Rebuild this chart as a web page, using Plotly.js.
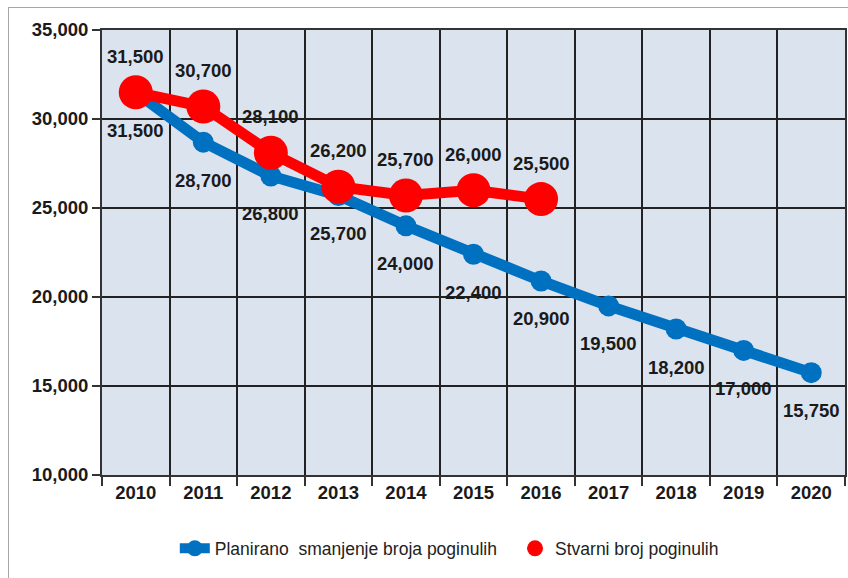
<!DOCTYPE html>
<html>
<head>
<meta charset="utf-8">
<script src="https://cdn.plot.ly/plotly-3.0.1.min.js"></script>
<style>
html,body{margin:0;padding:0;background:#fff;}
#wrap{position:relative;width:848px;height:578px;}
#frame{position:absolute;left:8px;top:7px;width:860px;height:600px;border-top:1px solid #a6a6a6;border-left:1px solid #a6a6a6;pointer-events:none;z-index:5;}
#chart{position:absolute;left:0;top:0;width:848px;height:578px;}
</style>
</head>
<body>
<div id="wrap"><div id="chart"></div><div id="frame"></div></div>
<script>
var years = ['2010','2011','2012','2013','2014','2015','2016','2017','2018','2019','2020'];
var plannedName = 'Planirano  smanjenje broja poginulih';
var plannedValues = [31500, 28700, 26800, 25700, 24000, 22400, 20900, 19500, 18200, 17000, 15750];
var actualName = 'Stvarni broj poginulih';
var actualYears = ['2010','2011','2012','2013','2014','2015','2016'];
var actualValues = [31500, 30700, 28100, 26200, 25700, 26000, 25500];
var yTickVals = [10000, 15000, 20000, 25000, 30000, 35000];

var BLUE = '#0070c0', RED = '#ff0000';
var fmt = function(v){ return v.toLocaleString('en-US'); };
var labelFont = {family:'Liberation Sans, Arial, sans-serif', size:18.5, color:'#1a1a1a', weight:700};
var legendFont = {family:'Liberation Sans, Arial, sans-serif', size:17.5, color:'#222'};

var traces = [
  {x: years, y: plannedValues, name: plannedName, type:'scatter', mode:'lines+markers',
   line:{color:BLUE, width:11}, marker:{color:BLUE, size:21}, hoverinfo:'skip', legend:'legend'},
  {x: actualYears, y: actualValues, name: actualName, type:'scatter', mode:'lines',
   line:{color:RED, width:11}, showlegend:false, hoverinfo:'skip'},
  {x: actualYears, y: actualValues, name: actualName, type:'scatter', mode:'markers',
   marker:{color:RED, size:34}, hoverinfo:'skip', legend:'legend2'}
];

var annotations = [];
years.forEach(function(yr, i){
  annotations.push({x: years.indexOf(yr), y: plannedValues[i], text: fmt(plannedValues[i]), showarrow:false,
    yshift:-38, font: labelFont});
});
actualYears.forEach(function(yr, i){
  annotations.push({x: years.indexOf(yr), y: actualValues[i], text: fmt(actualValues[i]), showarrow:false,
    yshift:36, font: labelFont});
});

var layout = {
  width:848, height:578,
  margin:{l:102, r:3, t:30, b:103},
  paper_bgcolor:'#ffffff', plot_bgcolor:'#dbe3ef',
  showlegend:true,
  legend:{orientation:'h', x:0.098, xanchor:'left', y:-0.165, yanchor:'middle',
    font:legendFont, itemwidth:30, bgcolor:'rgba(0,0,0,0)'},
  legend2:{orientation:'h', x:0.5559, xanchor:'left', y:-0.165, yanchor:'middle',
    font:legendFont, itemwidth:30, bgcolor:'rgba(0,0,0,0)'},
  xaxis:{type:'category', categoryorder:'array', categoryarray: years,
    range:[-0.5, years.length - 0.5], autorange:false,
    tickson:'boundaries', ticks:'outside', ticklen:9, tickwidth:2, tickcolor:'#333',
    showgrid:true, gridcolor:'#222', gridwidth:2, tickangle:0,
    showline:true, linecolor:'#333', linewidth:2, mirror:true,
    tickfont:{family:'Liberation Sans, Arial, sans-serif', size:18.5, color:'#1a1a1a', weight:700},
    fixedrange:true},
  yaxis:{range:[10000, 35000], tickvals: yTickVals, tickformat:',d',
    ticks:'outside', ticklen:8, tickwidth:2, tickcolor:'#333',
    showgrid:true, gridcolor:'#222', gridwidth:2, zeroline:false,
    showline:true, linecolor:'#333', linewidth:2, mirror:true,
    tickfont:{family:'Liberation Sans, Arial, sans-serif', size:18.5, color:'#1a1a1a', weight:700},
    fixedrange:true},
  annotations: annotations,
  hovermode:false
};

Plotly.newPlot('chart', traces, layout, {displayModeBar:false, staticPlot:true});
</script>
</body>
</html>
